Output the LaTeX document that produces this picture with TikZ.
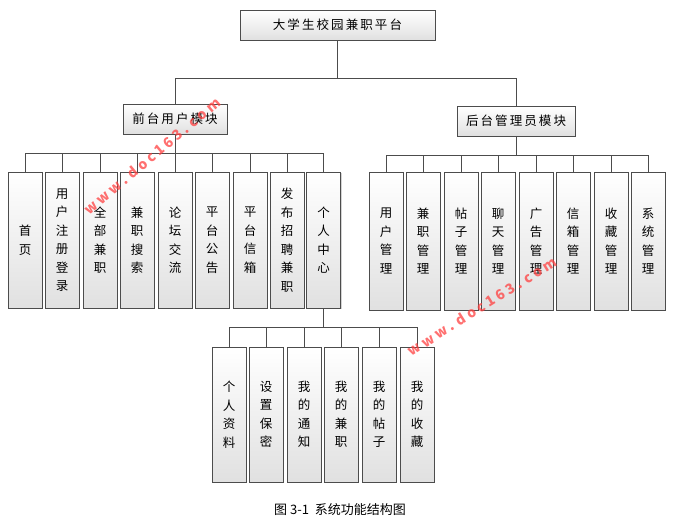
\documentclass[tikz,border=0pt]{standalone}
\usepackage{fontspec}
\setmainfont{Noto Sans CJK SC}
\usetikzlibrary{shadows}
\begin{document}
\begin{tikzpicture}[x=1pt,y=-1pt,
  bx/.style={draw=black!70,line width=0.6pt,top color=white,bottom color=black!12,drop shadow={shadow xshift=1.2pt,shadow yshift=-1.2pt,opacity=0.35},inner sep=0pt,font=\fontsize{12.5}{18.5}\selectfont,align=center},
  ln/.style={draw=black!70,line width=0.6pt},
  wm/.style={text=red!75,font=\fontsize{14}{14}\selectfont\bfseries,opacity=0.75}]
\useasboundingbox (0,0) rectangle (685,526);
\node[bx,minimum width=195,minimum height=30] (top) at (337.5,25) {大\,学\,生\,校\,园\,兼\,职\,平\,台};
\node[bx,minimum width=104,minimum height=30] (fm) at (175,119) {前\,台\,用\,户\,模\,块};
\node[bx,minimum width=118,minimum height=30] (bm) at (516,121) {后\,台\,管\,理\,员\,模\,块};
\foreach \n/\x/\t in {f1/25/{首\\页},f2/62/{用\\户\\注\\册\\登\\录},f3/100/{全\\部\\兼\\职},f4/137/{兼\\职\\搜\\索},f5/175/{论\\坛\\交\\流},f6/212/{平\\台\\公\\告},f7/250/{平\\台\\信\\箱},f8/287/{发\\布\\招\\聘\\兼\\职},f9/323.5/{个\\人\\中\\心}}
  \node[bx,minimum width=34,minimum height=136] (\n) at (\x,240) {\t};
\foreach \n/\x/\t in {b1/386/{用\\户\\管\\理},b2/423/{兼\\职\\管\\理},b3/461/{帖\\子\\管\\理},b4/498/{聊\\天\\管\\理},b5/536/{广\\告\\管\\理},b6/573/{信\\箱\\管\\理},b7/611/{收\\藏\\管\\理},b8/648/{系\\统\\管\\理}}
  \node[bx,minimum width=34,minimum height=138] (\n) at (\x,241) {\t};
\foreach \n/\x/\t in {p1/229/{个\\人\\资\\料},p2/266/{设\\置\\保\\密},p3/304/{我\\的\\通\\知},p4/341/{我\\的\\兼\\职},p5/379/{我\\的\\帖\\子},p6/417/{我\\的\\收\\藏}}
  \node[bx,minimum width=34,minimum height=135] (\n) at (\x,414.5) {\t};
\coordinate (tj) at (337.5,78);
\draw[ln] (top.south) -- (tj) -| (fm.north);
\draw[ln] (tj) -| (bm.north);
\draw[ln] (fm.south) -- (175,153);
\draw[ln] (25,153) -- (323.5,153);
\foreach \n in {f1,f2,f3,f4,f5,f6,f7,f8,f9} \draw[ln] (\n.north) -- ++(0,-19);
\draw[ln] (bm.south) -- (516,155);
\draw[ln] (386,155) -- (648,155);
\foreach \n in {b1,b2,b3,b4,b5,b6,b7,b8} \draw[ln] (\n.north) -- ++(0,-17);
\draw[ln] (f9.south) -- (323.5,327);
\draw[ln] (229,327) -- (417,327);
\foreach \n in {p1,p2,p3,p4,p5,p6} \draw[ln] (\n.north) -- ++(0,-20);
\node[font=\fontsize{13}{13}\selectfont] (cap) at (340,510) {图 3-1\ \ 系统功能结构图};
\node[wm,rotate=40] (w1) at (152,156) {w w w . d o c 1 6 3 . c o m};
\node[wm,rotate=32] (w2) at (482,306) {w w w . d o c 1 6 3 . c o m};
\end{tikzpicture}
\end{document}
